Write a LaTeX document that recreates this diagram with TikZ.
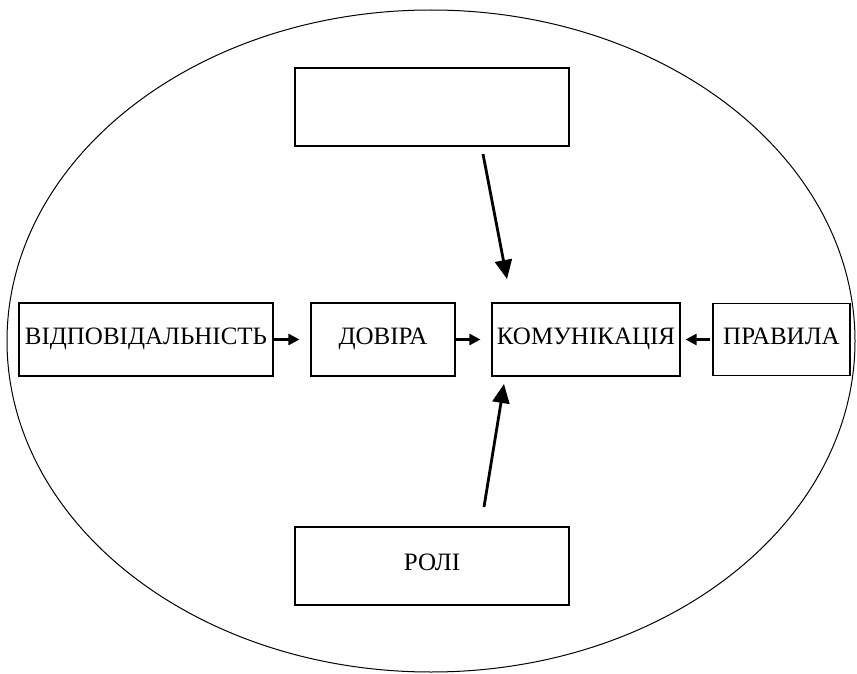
\documentclass[tikz,border=0pt]{standalone}
\usepackage{fontspec}
\setmainfont{Liberation Serif}
\usetikzlibrary{arrows.meta,positioning}
\begin{document}
\begin{tikzpicture}[x=1pt,y=-1pt,
  box/.style={draw,line width=1.1pt,rectangle,inner sep=0pt,
    font=\fontsize{25}{25}\selectfont,text height=17pt,text depth=8pt},
  bigarrow/.style={line width=2.8pt,-{Triangle[length=19pt,width=17pt]}},
  smallarrow/.style={line width=2.4pt,-{Triangle[length=11pt,width=11pt]}}]
\useasboundingbox (0,0) rectangle (857,674);
% outer ellipse
\draw[line width=1pt] (431,341) ellipse [x radius=424, y radius=331];
% boxes
\node[box,minimum width=274pt,minimum height=78pt] (top) at (432,107) {};
\node[box,minimum width=274pt,minimum height=78pt] (roles) at (432,566) {РОЛІ};
\node[box,minimum width=254pt,minimum height=73pt] (resp) at (146,339.5) {ВІДПОВІДАЛЬНІСТЬ};
\node[box,minimum width=144pt,minimum height=73pt] (trust) at (383,339.5) {ДОВІРА};
\node[box,minimum width=188pt,minimum height=73pt] (comm) at (586,339.5) {КОМУНІКАЦІЯ};
\node[box,minimum width=137pt,minimum height=72pt] (rules) at (781.5,339.5) {ПРАВИЛА};
% horizontal connectors
\draw[smallarrow,shorten >=11pt] (resp.east) -- (trust.west);
\draw[smallarrow,shorten >=11pt] (trust.east) -- (comm.west);
\draw[smallarrow,shorten <=2pt,shorten >=5pt] (rules.west) -- (comm.east);
% vertical connectors
\coordinate (ta) at (483,154);
\coordinate (tb) at (507,279);
\draw[bigarrow] (ta) -- (tb);
\coordinate (ra) at (484,507);
\coordinate (rb) at (504,384);
\draw[bigarrow] (ra) -- (rb);
\end{tikzpicture}
\end{document}
